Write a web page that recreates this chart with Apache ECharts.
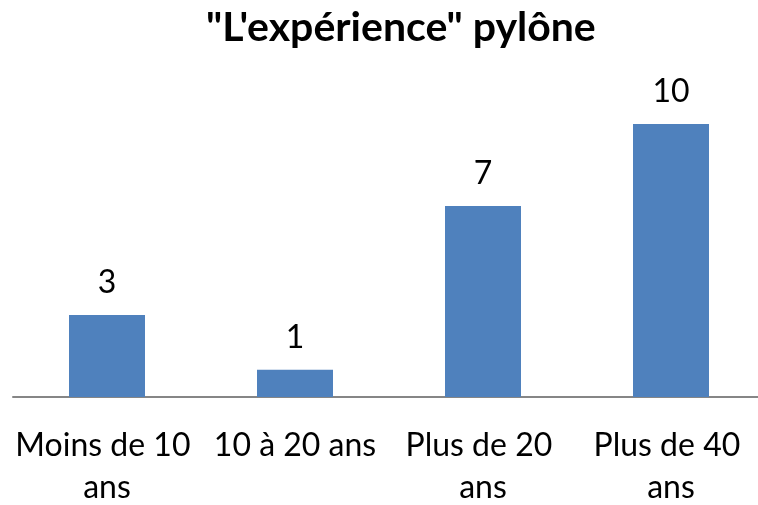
<!DOCTYPE html>
<html>
<head>
<meta charset="utf-8">
<script src="https://cdn.jsdelivr.net/npm/echarts@6/dist/echarts.min.js"></script>
<style>html,body{margin:0;padding:0;background:#fff}#c{width:758px;height:505px}</style>
</head>
<body>
<div id="c"></div>
<script>
const chartTitle = "\"L'expérience\" pylône";
const categories = ["Moins de 10 ans", "10 à 20 ans", "Plus de 20 ans", "Plus de 40 ans"];
const values = [3, 1, 7, 10];

const chart = echarts.init(document.getElementById('c'), null, {renderer: 'canvas'});
chart.setOption({
  animation: false,
  backgroundColor: '#ffffff',
  title: {
    text: chartTitle,
    left: 201,
    top: 2,
    textStyle: {fontFamily: 'Lato', fontWeight: 'bold', fontSize: 41, color: '#000'}
  },
  grid: {left: 13, top: 124, width: 752, bottom: 108, containLabel: false, outerBoundsMode: 'none'},
  xAxis: {
    type: 'category',
    data: categories,
    axisLine: {show: true, lineStyle: {color: '#868686', width: 2}},
    axisTick: {show: false},
    axisLabel: {
      interval: 0,
      margin: 28,
      width: 184,
      overflow: 'break',
      fontFamily: 'Lato',
      fontSize: 32,
      lineHeight: 42,
      color: '#000'
    }
  },
  yAxis: {
    type: 'value',
    min: 0,
    max: 10,
    show: false,
    splitLine: {show: false}
  },
  series: [{
    type: 'bar',
    data: values,
    barWidth: 76,
    itemStyle: {color: '#4F81BD'},
    label: {
      show: true,
      position: 'top',
      distance: 16,
      fontFamily: 'Lato',
      fontSize: 32,
      color: '#000'
    }
  }]
});
</script>
</body>
</html>
